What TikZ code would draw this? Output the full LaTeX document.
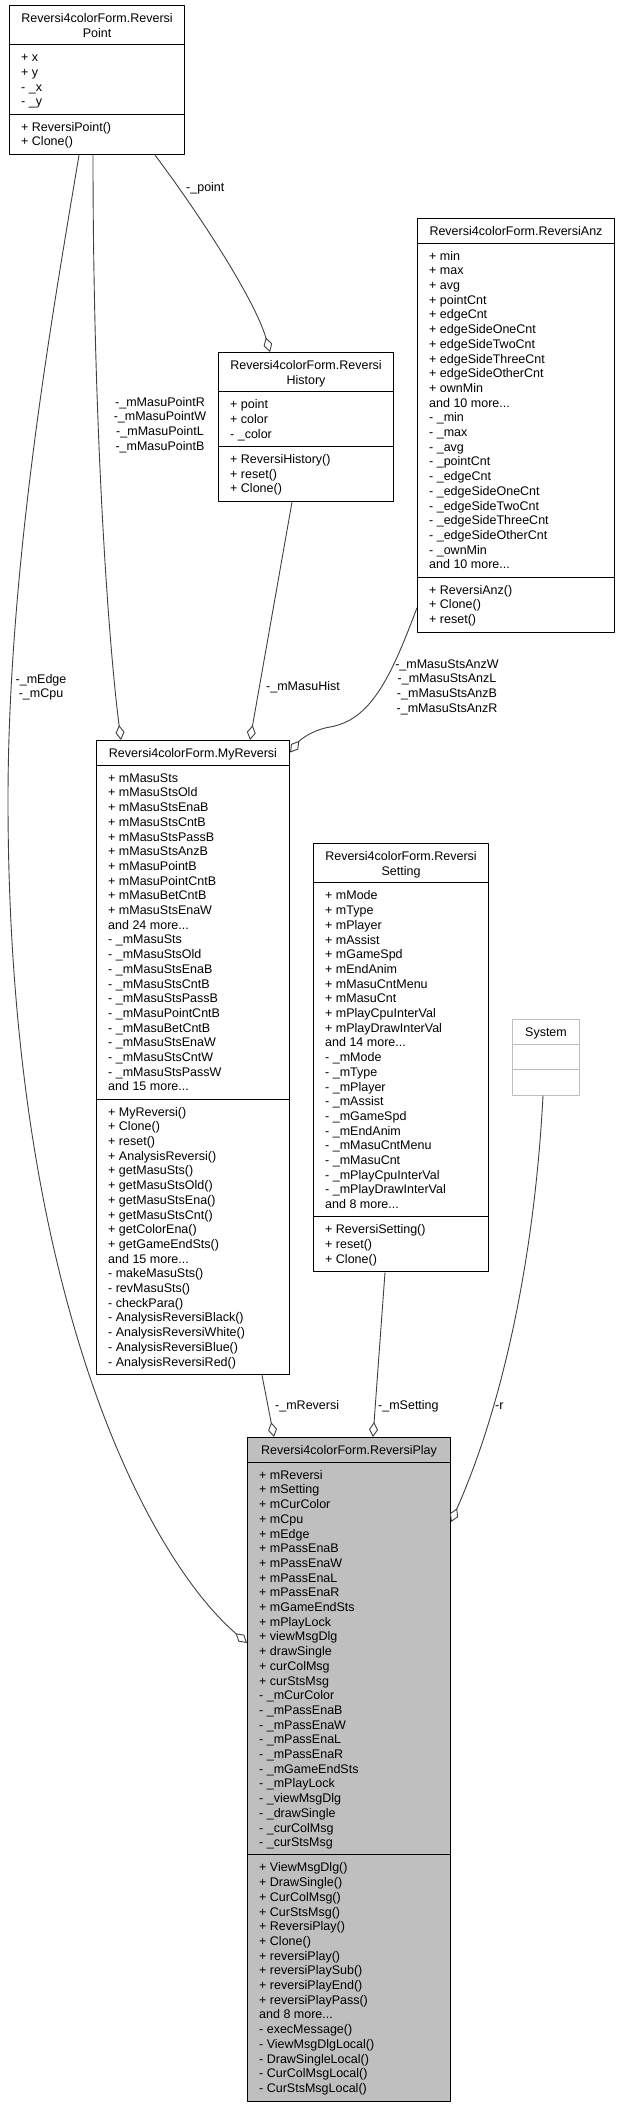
\documentclass[tikz,border=0pt]{standalone}
\usepackage{fontspec}
\setmainfont{Liberation Sans}
\usetikzlibrary{arrows.meta}
\definecolor{edgegray}{HTML}{404040}
\definecolor{boxgray}{HTML}{BFBFBF}
\newcommand{\umlfont}{\fontsize{12.5}{14.7}\selectfont}
\newcommand{\rows}[1]{\begin{tabular}{@{}l@{}}#1\end{tabular}}
\newcommand{\crows}[1]{\begin{tabular}{@{}c@{}}#1\end{tabular}}
\begin{document}
\begin{tikzpicture}[x=1pt,y=-1pt,line join=round,
	every node/.style={font=\umlfont,inner sep=0pt},
	classbox/.style={draw=black,fill=white,line width=1pt,anchor=north west},
	sep/.style={draw=black,line width=1pt},
	titletext/.style={anchor=north},
	membertext/.style={anchor=north west},
	assoc/.style={draw=edgegray,line width=0.9pt,-{Diamond[open,length=15pt,width=9pt]}}]
	\useasboundingbox (0,0) rectangle (621,2107);
	% ReversiPoint
	\node[classbox,minimum width=175,minimum height=149.1] (point) at (9,5) {};
	\draw[sep] ([yshift=-39.9]point.north west) -- ([yshift=-39.9]point.north east)
	([yshift=-109.2]point.north west) -- ([yshift=-109.2]point.north east);
	\node[titletext] (point-t) at ([yshift=-7]point.north) {\crows{Reversi4colorForm.Reversi\\Point}};
	\node[membertext] (point-a) at ([xshift=12,yshift=-46.4]point.north west) {\rows{+ x\\+ y\\- \_x\\- \_y}};
	\node[membertext] (point-m) at ([xshift=12,yshift=-115.7]point.north west) {\rows{+ ReversiPoint()\\+ Clone()}};
	% ReversiHistory
	\node[classbox,minimum width=175,minimum height=149.1] (hist) at (218,352) {};
	\draw[sep] ([yshift=-39.9]hist.north west) -- ([yshift=-39.9]hist.north east)
	([yshift=-94.5]hist.north west) -- ([yshift=-94.5]hist.north east);
	\node[titletext] (hist-t) at ([yshift=-7]hist.north) {\crows{Reversi4colorForm.Reversi\\History}};
	\node[membertext] (hist-a) at ([xshift=12,yshift=-46.4]hist.north west) {\rows{+ point\\+ color\\- \_color}};
	\node[membertext] (hist-m) at ([xshift=12,yshift=-101]hist.north west) {\rows{+ ReversiHistory()\\+ reset()\\+ Clone()}};
	% ReversiAnz
	\node[classbox,minimum width=197,minimum height=413.7] (anz) at (417,218) {};
	\draw[sep] ([yshift=-25.2]anz.north west) -- ([yshift=-25.2]anz.north east)
	([yshift=-359.1]anz.north west) -- ([yshift=-359.1]anz.north east);
	\node[titletext] (anz-t) at ([yshift=-7]anz.north) {\crows{Reversi4colorForm.ReversiAnz}};
	\node[membertext] (anz-a) at ([xshift=12,yshift=-31.7]anz.north west) {\rows{+ min\\+ max\\+ avg\\+ pointCnt\\+ edgeCnt\\+ edgeSideOneCnt\\+ edgeSideTwoCnt\\+ edgeSideThreeCnt\\+ edgeSideOtherCnt\\+ ownMin\\and 10 more...\\- \_min\\- \_max\\- \_avg\\- \_pointCnt\\- \_edgeCnt\\- \_edgeSideOneCnt\\- \_edgeSideTwoCnt\\- \_edgeSideThreeCnt\\- \_edgeSideOtherCnt\\- \_ownMin\\and 10 more...}};
	\node[membertext] (anz-m) at ([xshift=12,yshift=-365.6]anz.north west) {\rows{+ ReversiAnz()\\+ Clone()\\+ reset()}};
	% MyReversi
	\node[classbox,minimum width=193,minimum height=634.2] (myrev) at (96,740) {};
	\draw[sep] ([yshift=-25.2]myrev.north west) -- ([yshift=-25.2]myrev.north east)
	([yshift=-359.1]myrev.north west) -- ([yshift=-359.1]myrev.north east);
	\node[titletext] (myrev-t) at ([yshift=-7]myrev.north) {\crows{Reversi4colorForm.MyReversi}};
	\node[membertext] (myrev-a) at ([xshift=12,yshift=-31.7]myrev.north west) {\rows{+ mMasuSts\\+ mMasuStsOld\\+ mMasuStsEnaB\\+ mMasuStsCntB\\+ mMasuStsPassB\\+ mMasuStsAnzB\\+ mMasuPointB\\+ mMasuPointCntB\\+ mMasuBetCntB\\+ mMasuStsEnaW\\and 24 more...\\- \_mMasuSts\\- \_mMasuStsOld\\- \_mMasuStsEnaB\\- \_mMasuStsCntB\\- \_mMasuStsPassB\\- \_mMasuPointCntB\\- \_mMasuBetCntB\\- \_mMasuStsEnaW\\- \_mMasuStsCntW\\- \_mMasuStsPassW\\and 15 more...}};
	\node[membertext] (myrev-m) at ([xshift=12,yshift=-365.6]myrev.north west) {\rows{+ MyReversi()\\+ Clone()\\+ reset()\\+ AnalysisReversi()\\+ getMasuSts()\\+ getMasuStsOld()\\+ getMasuStsEna()\\+ getMasuStsCnt()\\+ getColorEna()\\+ getGameEndSts()\\and 15 more...\\- makeMasuSts()\\- revMasuSts()\\- checkPara()\\- AnalysisReversiBlack()\\- AnalysisReversiWhite()\\- AnalysisReversiBlue()\\- AnalysisReversiRed()}};
	% ReversiSetting
	\node[classbox,minimum width=175,minimum height=428.4] (setting) at (313,843) {};
	\draw[sep] ([yshift=-39.9]setting.north west) -- ([yshift=-39.9]setting.north east)
	([yshift=-373.8]setting.north west) -- ([yshift=-373.8]setting.north east);
	\node[titletext] (setting-t) at ([yshift=-7]setting.north) {\crows{Reversi4colorForm.Reversi\\Setting}};
	\node[membertext] (setting-a) at ([xshift=12,yshift=-46.4]setting.north west) {\rows{+ mMode\\+ mType\\+ mPlayer\\+ mAssist\\+ mGameSpd\\+ mEndAnim\\+ mMasuCntMenu\\+ mMasuCnt\\+ mPlayCpuInterVal\\+ mPlayDrawInterVal\\and 14 more...\\- \_mMode\\- \_mType\\- \_mPlayer\\- \_mAssist\\- \_mGameSpd\\- \_mEndAnim\\- \_mMasuCntMenu\\- \_mMasuCnt\\- \_mPlayCpuInterVal\\- \_mPlayDrawInterVal\\and 8 more...}};
	\node[membertext] (setting-m) at ([xshift=12,yshift=-380.3]setting.north west) {\rows{+ ReversiSetting()\\+ reset()\\+ Clone()}};
	% System
	\node[classbox,draw=boxgray,minimum width=67,minimum height=75.6] (system) at (512,1019) {};
	\draw[sep,draw=boxgray] ([yshift=-25.2]system.north west) -- ([yshift=-25.2]system.north east)
	([yshift=-50.4]system.north west) -- ([yshift=-50.4]system.north east);
	\node[titletext] (system-t) at ([yshift=-7]system.north) {\crows{System}};
	% ReversiPlay
	\node[classbox,fill=boxgray,minimum width=203,minimum height=663.6] (play) at (247,1437) {};
	\draw[sep] ([yshift=-25.2]play.north west) -- ([yshift=-25.2]play.north east)
	([yshift=-417.9]play.north west) -- ([yshift=-417.9]play.north east);
	\node[titletext] (play-t) at ([yshift=-7]play.north) {\crows{Reversi4colorForm.ReversiPlay}};
	\node[membertext] (play-a) at ([xshift=12,yshift=-31.7]play.north west) {\rows{+ mReversi\\+ mSetting\\+ mCurColor\\+ mCpu\\+ mEdge\\+ mPassEnaB\\+ mPassEnaW\\+ mPassEnaL\\+ mPassEnaR\\+ mGameEndSts\\+ mPlayLock\\+ viewMsgDlg\\+ drawSingle\\+ curColMsg\\+ curStsMsg\\- \_mCurColor\\- \_mPassEnaB\\- \_mPassEnaW\\- \_mPassEnaL\\- \_mPassEnaR\\- \_mGameEndSts\\- \_mPlayLock\\- \_viewMsgDlg\\- \_drawSingle\\- \_curColMsg\\- \_curStsMsg}};
	\node[membertext] (play-m) at ([xshift=12,yshift=-424.4]play.north west) {\rows{+ ViewMsgDlg()\\+ DrawSingle()\\+ CurColMsg()\\+ CurStsMsg()\\+ ReversiPlay()\\+ Clone()\\+ reversiPlay()\\+ reversiPlaySub()\\+ reversiPlayEnd()\\+ reversiPlayPass()\\and 8 more...\\- execMessage()\\- ViewMsgDlgLocal()\\- DrawSingleLocal()\\- CurColMsgLocal()\\- CurStsMsgLocal()}};
	% associations
	\draw[assoc] ([xshift=146]point.south west) .. controls (200,215) and (255,300) .. ([xshift=52]hist.north west);
	\draw[assoc] ([xshift=84]point.south west) .. controls (93,420) and (108,640) .. ([xshift=25]myrev.north west);
	\draw[assoc] ([xshift=70]point.south west) .. controls (55,300) and (8,560) .. (8,800)
	.. controls (8,1300) and (150,1560) .. ([yshift=-206]play.north west);
	\draw[assoc] ([xshift=74]hist.south west) -- ([xshift=154]myrev.north west);
	\draw[assoc] ([yshift=25]anz.south west) .. controls (390,680) and (370,720) .. (330,727)
	.. controls (312,730) and (300,740) .. ([yshift=-12.6]myrev.north east);
	\draw[assoc] ([xshift=166]myrev.south west) -- ([xshift=27]play.north west);
	\draw[assoc] ([xshift=72]setting.south west) -- ([xshift=126]play.north west);
	\draw[assoc] ([xshift=31]system.south west) .. controls (535,1250) and (505,1400) .. ([yshift=-85]play.north east);
	% labels
	\node[anchor=base west] (l-point) at (186,191) {-\_point};
	\node[anchor=north] (l-pointrwlb) at (160,395.7) {\crows{-\_mMasuPointR\\-\_mMasuPointW\\-\_mMasuPointL\\-\_mMasuPointB}};
	\node[anchor=north] (l-edgecpu) at (41,672.7) {\crows{-\_mEdge\\-\_mCpu}};
	\node[anchor=base west] (l-hist) at (266,690) {-\_mMasuHist};
	\node[anchor=north] (l-anz) at (447,657.7) {\crows{-\_mMasuStsAnzW\\-\_mMasuStsAnzL\\-\_mMasuStsAnzB\\-\_mMasuStsAnzR}};
	\node[anchor=base west] (l-reversi) at (275,1409) {-\_mReversi};
	\node[anchor=base west] (l-setting) at (378,1409) {-\_mSetting};
	\node[anchor=base west] (l-r) at (495,1409) {-r};
\end{tikzpicture}
\end{document}
